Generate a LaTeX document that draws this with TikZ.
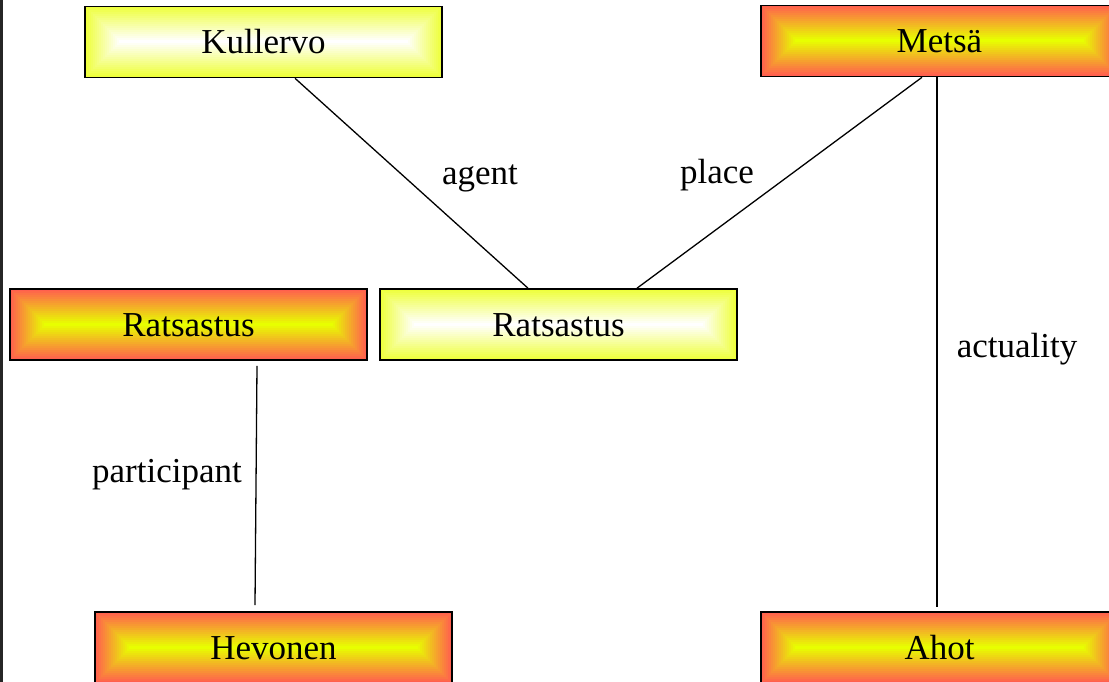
\documentclass[tikz,border=0pt]{standalone}
\usepackage{fontspec}
\setmainfont{Liberation Serif}
\definecolor{redout}{RGB}{255,96,78}
\definecolor{yelin}{RGB}{232,255,0}
\definecolor{yelout}{RGB}{238,255,60}
\definecolor{whitein}{RGB}{255,255,255}
\tikzset{
  box/.style={draw=black, line width=1.6pt, minimum width=357pt, minimum height=71pt,
    inner sep=0pt, text height=23pt, text depth=0pt, font=\fontsize{35}{40}\selectfont},
  grad/.style n args={2}{path picture={
    \foreach \i in {0,2,...,34} {
      \pgfmathsetmacro\f{100*\i/34}
      \fill[#2!\f!#1] ([shift={(\i pt,-\i pt)}]path picture bounding box.north west)
        rectangle ([shift={(-\i pt,\i pt)}]path picture bounding box.south east);
    }}},
  hotbox/.style={box, grad={redout}{yelin}},
  palebox/.style={box, grad={yelout}{whitein}},
  conn/.style={draw=black, line width=1.3pt},
  lbl/.style={anchor=base, inner sep=0pt, font=\fontsize{35}{40}\selectfont}
}
\begin{document}
\begin{tikzpicture}[x=1pt,y=-1pt]
\useasboundingbox (0,0) rectangle (1109,682);
\clip (0,0) rectangle (1109,682);
\fill[white] (0,0) rectangle (1109,682);
\draw[line width=3pt, black!85] (1.5,0) -- (1.5,682);

\node[palebox] (K) at (263.5,42) {Kullervo};
\node[hotbox] (M) at (939.5,41) {Metsä};
\node[hotbox] (R1) at (188.5,324.5) {Ratsastus};
\node[palebox] (R2) at (558.5,324.5) {Ratsastus};
\node[hotbox] (H) at (273.5,647.5) {Hevonen};
\node[hotbox] (A) at (939.5,647.5) {Ahot};

\draw[conn] ([xshift=31.5pt]K.south) -- ([xshift=-30.5pt]R2.north);
\draw[conn] ([xshift=-17.5pt]M.south) -- ([xshift=78.5pt]R2.north);
\draw[conn] ([xshift=-2.5pt]M.south) -- ([shift={(-2.5,-4)}]A.north);
\draw[conn] ([shift={(68.5,5)}]R1.south) -- ([shift={(-18.5,-6)}]H.north);

\node[lbl] (lagent) at (480,185) {agent};
\node[lbl] (lplace) at (717,183) {place};
\node[lbl] (lact) at (1017,357) {actuality};
\node[lbl] (lpart) at (167,482) {participant};
\end{tikzpicture}
\end{document}
